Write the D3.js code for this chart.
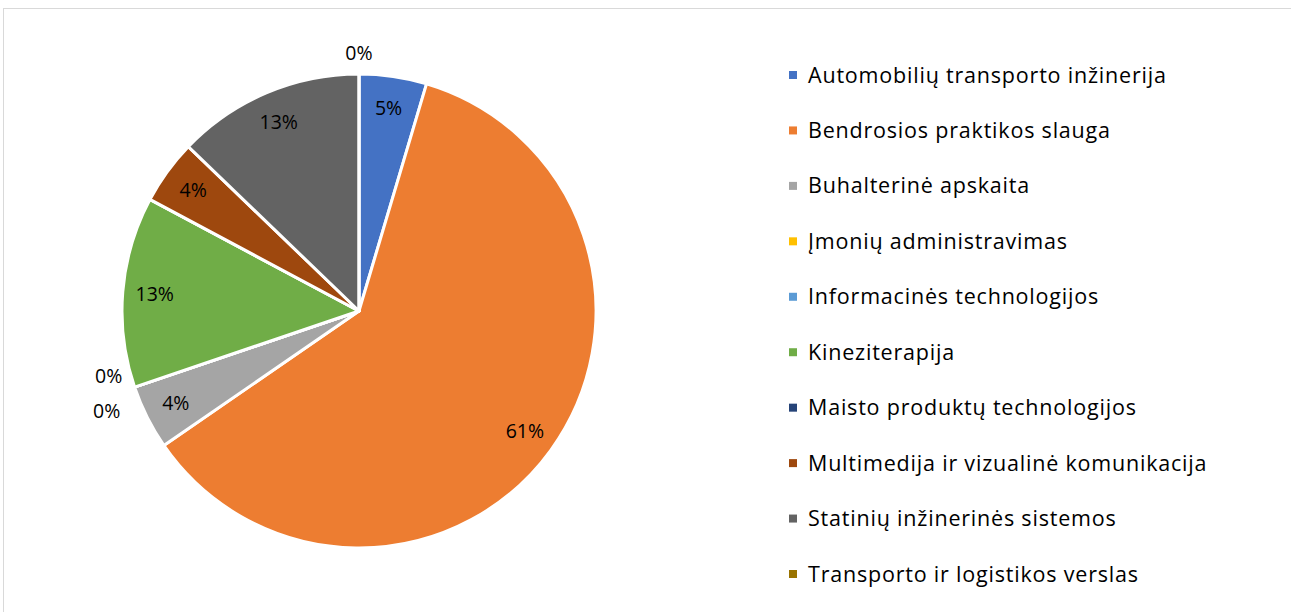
<!DOCTYPE html>
<html><head><meta charset="utf-8">
<script src="https://cdn.jsdelivr.net/npm/d3@7"></script>
<style>body{margin:0;background:#fff;} svg{display:block;}</style>
</head><body>
<svg id="c" width="1291" height="612"></svg>
<script>
const categories = ["Automobilių transporto inžinerija","Bendrosios praktikos slauga","Buhalterinė apskaita","Įmonių administravimas","Informacinės technologijos","Kineziterapija","Maisto produktų technologijos","Multimedija ir vizualinė komunikacija","Statinių inžinerinės sistemos","Transporto ir logistikos verslas"];
const values = [4.6, 60.8, 4.4, 0, 0, 13.0, 0, 4.4, 12.8, 0];
const labels = ["5%","61%","4%","0%","0%","13%","0%","4%","13%","0%"];
const showLabel = [true,true,true,true,true,true,false,true,true,true];
const colors = ["#4472C4","#ED7D31","#A5A5A5","#FFC000","#5B9BD5","#70AD47","#264478","#9E480E","#636363","#997300"];

const svg = d3.select("#c");
const font = "'Open Sans', sans-serif";
svg.append("rect").attr("x",3.5).attr("y",8.5).attr("width",1300).attr("height",620)
  .attr("fill","#fff").attr("stroke","#d9d9d9").attr("stroke-width",1);

const cx = 359, cy = 311, R = 237;
const g = svg.append("g").attr("transform",`translate(${cx},${cy})`);
const pie = d3.pie().value(d=>d).sort(null);
const arcs = pie(values);
const arc = d3.arc().innerRadius(0).outerRadius(R);
g.selectAll("path").data(arcs).enter().append("path")
  .attr("d",arc).attr("fill",(d,i)=>colors[i])
  .attr("stroke","#fff").attr("stroke-width",3).attr("stroke-linejoin","round");

const inArc = d3.arc().innerRadius(205).outerRadius(205);
const outArc = d3.arc().innerRadius(258).outerRadius(258);
const seen = {};
arcs.forEach((d,i)=>{
  if(!showLabel[i]) return;
  let p;
  if(values[i] > 0){ p = inArc.centroid(d); }
  else {
    p = outArc.centroid(d);
    const key = d.startAngle.toFixed(4);
    const group = arcs.filter((a,j)=>values[j]===0 && showLabel[j] && a.startAngle.toFixed(4)===key);
    if(group.length>1){
      const k = seen[key] = (seen[key]===undefined?0:seen[key]+1);
      p = [p[0]-6 + k*(-2), p[1] + (k - (group.length-1)/2)*35];
    }
  }
  g.append("text").attr("x",p[0]).attr("y",p[1]).attr("dy","0.35em")
    .attr("text-anchor","middle").attr("font-family",font).attr("font-size",19.5)
    .attr("fill","#000").text(labels[i]);
});

const leg = svg.append("g");
const ly = d3.scalePoint().domain(categories).range([75,574]);
categories.forEach((c,i)=>{
  const y = ly(c);
  leg.append("rect").attr("x",789).attr("y",y-4).attr("width",8).attr("height",8).attr("fill",colors[i]);
  leg.append("text").attr("x",808).attr("y",y).attr("dy","0.35em")
    .attr("font-family",font).attr("font-size",21.5).attr("letter-spacing",0.8)
    .attr("fill","#000").text(c);
});
</script>
</body></html>
